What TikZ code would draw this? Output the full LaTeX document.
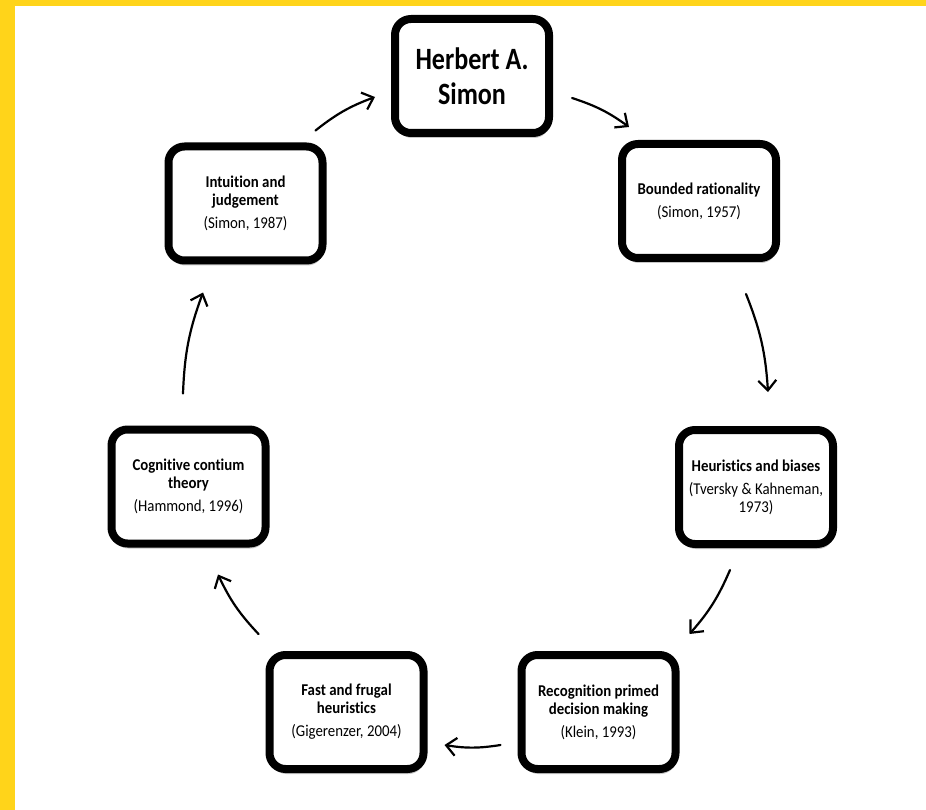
\documentclass[tikz,border=0pt]{standalone}
\usepackage{fontspec}
\setmainfont{Carlito}
\newfontfamily\boxfont[FakeStretch=0.9, Ligatures=NoCommon]{Carlito}
\newfontfamily\headfont[FakeStretch=0.84, Ligatures=NoCommon]{Carlito}
\usetikzlibrary{arrows.meta, shadows}
\definecolor{bandyellow}{RGB}{255,212,26}

\begin{document}
\begin{tikzpicture}[x=1pt, y=-1pt]

\useasboundingbox (0,0) rectangle (926,810);

% styles
\pgfkeys{/tikz/link/.style={-{Straight Barb[length=10pt, width=18pt, line width=2.2pt]}, line width=2.2pt, line cap=round, bend left=9}} % hand drawn arrows
\pgfkeys{/stage/.style={draw, fill=white, line width=8pt, rounded corners=16pt, minimum width=154pt, minimum height=114pt, align=center, drop shadow={shadow xshift=1pt, shadow yshift=-5pt, opacity=0.22, fill=black}}} % base style for boxes
\pgfkeys{/small/.style={/stage, node font=\boxfont\fontsize{16.5}{18}\selectfont}} % theory boxes
\pgfkeys{/head/.style={/stage, node font=\headfont\fontsize{31}{35}\selectfont\bfseries}} % Simon box

% yellow frame
\fill[bandyellow] (0,0) rectangle (15,810);
\fill[bandyellow] (0,0) rectangle (926,6);

% ring of positions
\coordinate (c0) at (472,76);
\coordinate (c1) at (699,201);
\coordinate (c2) at (756,487);
\coordinate (c3) at (598.5,712);
\coordinate (c4) at (346.5,712);
\coordinate (c5) at (188.5,486.5);
\coordinate (c6) at (245.5,203.5);

% boxes
\node[/head] (herbert) at (c0) {Herbert A.\\Simon};
\node[/small] (bounded) at (c1) {\textbf{Bounded rationality}\\[5pt](Simon, 1957)};
\node[/small] (heuristics) at (c2) {\textbf{Heuristics and biases}\\[5pt](Tversky \& Kahneman,\\1973)};
\node[/small] (recognition) at (c3) {\textbf{Recognition primed}\\\textbf{decision making}\\[5pt](Klein, 1993)};
\node[/small] (fast) at (c4) {\textbf{Fast and frugal}\\\textbf{heuristics}\\[5pt](Gigerenzer, 2004)};
\node[/small] (cognitive) at (c5) {\textbf{Cognitive contium}\\\textbf{theory}\\[5pt](Hammond, 1996)};
\node[/small] (intuition) at (c6) {\textbf{Intuition and}\\\textbf{judgement}\\[5pt](Simon, 1987)};

% arrows, clockwise
\draw[link] ([shift={(-11,-12)}]intuition.north east) to ([shift={(-16,21)}]herbert.west);
\draw[link] ([shift={(19,22)}]herbert.east) to ([shift={(11,-13)}]bounded.north west);
\draw[link] ([shift={(-34,32)}]bounded.south east) to ([shift={(12,-34)}]heuristics.north);
\draw[link] ([shift={(-26,22)}]heuristics.south) to ([shift={(10,-17)}]recognition.north east);
\draw[link] ([shift={(-17,33)}]recognition.west) to ([shift={(17,33)}]fast.east);
\draw[link] ([shift={(-7,-17)}]fast.north west) to ([shift={(29.5,27)}]cognitive.south);
\draw[link] ([shift={(-5.5,-32)}]cognitive.north) to ([shift={(-42.5,28)}]intuition.south);

\end{tikzpicture}
\end{document}
